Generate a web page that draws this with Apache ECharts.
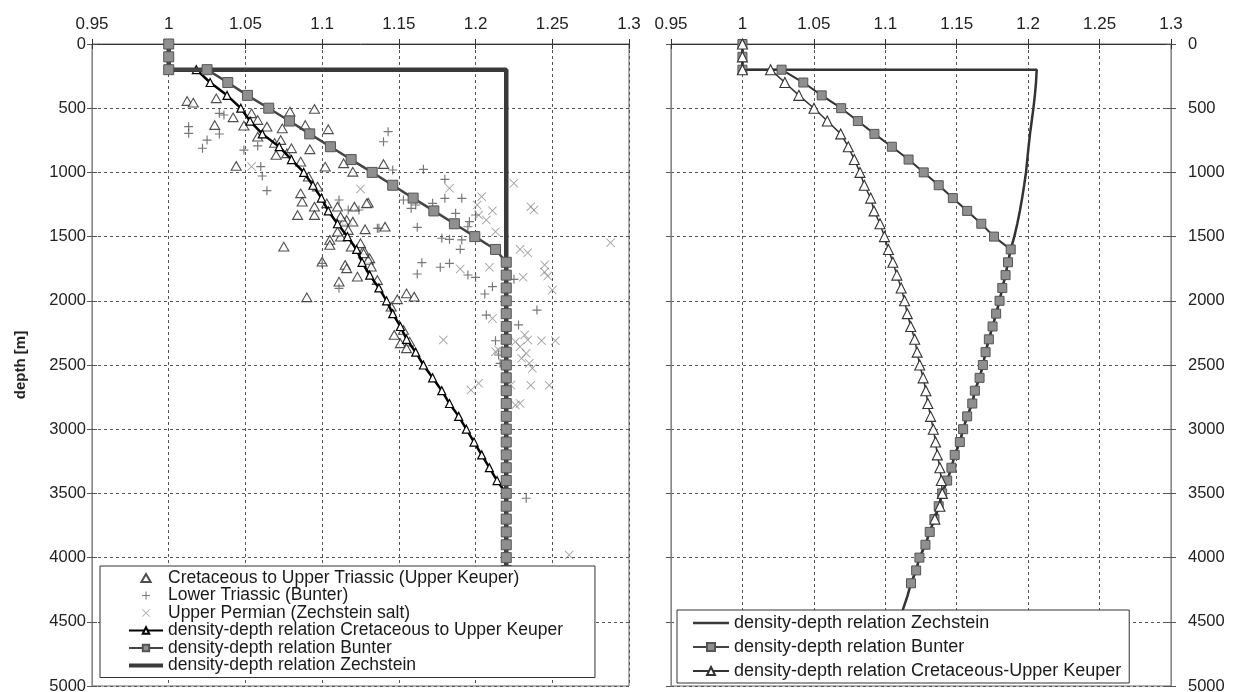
<!DOCTYPE html>
<html>
<head>
<meta charset="utf-8">
<script src="https://cdn.jsdelivr.net/npm/echarts@6/dist/echarts.min.js"></script>
<style>
  html, body { margin: 0; padding: 0; background: #fff; }
  #chart { width: 1233px; height: 692px; }
</style>
</head>
<body>
<div id="chart"></div>
<script>
// ---- density axis ticks and depth axis ticks ----
const densityTicks = [0.95, 1, 1.05, 1.1, 1.15, 1.2, 1.25, 1.3];
const depthTicks = [0, 500, 1000, 1500, 2000, 2500, 3000, 3500, 4000, 4500, 5000];

// ---- measured densities [density, depth m] ----
const cretaceousSamples = [
  [1.012,444],[1.016,457],[1.031,423],[1.042,571],[1.049,636],[1.030,631],[1.044,950],[1.079,527],
  [1.095,506],[1.089,631],[1.104,664],[1.092,820],[1.074,657],[1.069,770],[1.058,722],[1.070,864],
  [1.102,955],[1.114,929],[1.120,995],[1.086,1163],[1.087,1228],[1.084,1332],[1.095,1267],[1.110,1267],
  [1.121,1267],[1.130,1236],[1.116,1371],[1.128,1443],[1.095,1332],[1.105,1526],[1.075,1578],[1.112,1500],
  [1.127,1604],[1.140,935],[1.141,1423],[1.131,1669],[1.155,1942],[1.160,1968],[1.147,2266],[1.151,2331],
  [1.157,2318],[1.090,1973],[1.100,1695],[1.105,1565],[1.111,1851],[1.115,1721],[1.116,1747],[1.114,1384],
  [1.120,1384],[1.129,1241],[1.130,1682],[1.123,1812],[1.127,1630],[1.149,1988],[1.155,2370],
  [1.054,540],[1.058,592],[1.064,644],[1.073,748],[1.077,851],[1.080,812],[1.086,916],[1.091,1033],
  [1.097,1111],[1.103,1241],[1.112,1345],[1.117,1449],[1.125,1552],[1.110,1462],[1.119,1578],[1.132,1734],
  [1.136,1838],[1.145,2046],[1.153,2227]
];
const lowerTriassicSamples = [
  [1.033,540],[1.036,553],[1.013,644],[1.013,696],[1.025,748],[1.033,701],[1.022,812],[1.049,826],
  [1.060,955],[1.061,1028],[1.064,1142],[1.058,794],[1.111,1215],[1.136,1435],[1.117,1293],
  [1.143,683],[1.140,761],[1.146,981],[1.180,1054],[1.191,1202],[1.180,1202],
  [1.166,976],[1.153,1215],[1.158,1280],[1.161,1254],[1.172,1241],[1.187,1319],[1.196,1384],[1.195,1423],
  [1.200,1332],[1.162,1428],[1.178,1513],[1.183,1521],[1.191,1526],[1.190,1599],[1.165,1703],[1.162,1791],
  [1.177,1739],[1.183,1708],[1.195,1799],[1.200,1817],[1.225,1833],[1.211,1890],[1.206,1947],[1.240,2072],
  [1.207,2111],[1.228,2188],[1.213,2311],[1.215,2422],[1.216,2487],
  [1.137,1435],[1.111,1903],[1.100,1708],[1.124,1293],[1.233,3538]
];
const zechsteinSamples = [
  [1.054,955],[1.125,1129],[1.183,1124],[1.204,1189],[1.225,1085],[1.211,1298],[1.207,1371],[1.202,1332],
  [1.201,1254],[1.236,1267],[1.238,1293],[1.213,1462],[1.229,1599],[1.234,1625],[1.288,1547],[1.209,1739],
  [1.190,1752],[1.231,1817],[1.245,1776],[1.247,1807],[1.245,1721],[1.250,1916],[1.211,2137],[1.179,2305],
  [1.213,2396],[1.226,2318],[1.232,2266],[1.234,2305],[1.229,2357],[1.233,2409],[1.230,2448],[1.235,2487],
  [1.237,2526],[1.243,2311],[1.252,2311],[1.215,2383],[1.202,2643],[1.197,2695],[1.223,2656],[1.236,2658],
  [1.248,2658],[1.226,2812],[1.229,2799],[1.261,3980]
];

// ---- density-depth relations, left panel ----
const leftCretDepth = [0,100,200,200,300,400,500,600,700,800,900,1000,1100,1200,1300,1400,1500,1600,1700,1800,
  1900,2000,2100,2200,2300,2400,2500,2600,2700,2800,2900,3000,3100,3200,3300,3400,3500,
  3600,3700,3800,3900,4000,4100,4200,4300,4400,4500];
const leftCretDensity = [1,1,1,1.018,1.027,1.038,1.047,1.053,1.061,1.072,1.080,1.088,1.094,1.0995,1.104,1.110,1.1165,1.1225,1.126,1.131,
  1.137,1.142,1.146,1.151,1.155,1.161,1.166,1.172,1.178,1.183,1.189,1.194,1.199,1.204,1.209,1.214,1.22,
  1.22,1.22,1.22,1.22,1.22,1.22,1.22,1.22,1.22,1.22];

const leftBunterDepth = [0,100,200,200,300,400,500,600,700,800,900,1000,1100,1200,1300,1400,1500,1600,
  1700,1800,1900,2000,2100,2200,2300,2400,2500,2600,2700,2800,2900,3000,3100,3200,3300,3400,3500,
  3600,3700,3800,3900,4000,4100,4200,4300,4400,4500];
const leftBunterDensity = [1,1,1,1.025,1.0385,1.0513,1.0652,1.0787,1.0919,1.1054,1.1189,1.1326,1.146,1.1593,1.1728,1.1862,1.1995,1.213,
  1.22,1.22,1.22,1.22,1.22,1.22,1.22,1.22,1.22,1.22,1.22,1.22,1.22,1.22,1.22,1.22,1.22,1.22,1.22,
  1.22,1.22,1.22,1.22,1.22,1.22,1.22,1.22,1.22,1.22];

const leftZechDepth = [0,200,200,4500];
const leftZechDensity = [1,1,1.22,1.22];

// ---- density-depth relations, right panel ----
const rightZechDepth = [0,200,200,300,400,500,600,700,800,900,1000,1100,1200,1300,1400,1500,1600,
  1700,1800,1900,2000,2100,2200,2300,2400,2500,2600,2700,2800,2900,3000,3100,3200,3300,3400,3500,
  3600,3700,3800,3900,4000,4100,4200,4300,4400,4500];
const rightZechDensity = [1,1,1.206,1.2055,1.2047,1.2037,1.2025,1.2013,1.2003,1.1994,1.1985,1.1972,1.1958,1.1942,1.1924,1.1903,1.1878,
  1.1859,1.1842,1.1819,1.18,1.1776,1.1751,1.1725,1.1702,1.1683,1.166,1.1627,1.1609,1.1573,1.1545,1.1522,1.1486,1.1463,1.1433,1.1398,
  1.1374,1.1344,1.1311,1.1281,1.1239,1.1216,1.118,1.1155,1.1125,1.1095];

const rightBunterDepth = [0,100,200,200,300,400,500,600,700,800,900,1000,1100,1200,1300,1400,1500,1600,
  1700,1800,1900,2000,2100,2200,2300,2400,2500,2600,2700,2800,2900,3000,3100,3200,3300,3400,3500,
  3600,3700,3800,3900,4000,4100,4200];
const rightBunterDensity = [1,1,1,1.0274,1.0426,1.0555,1.0691,1.0808,1.0924,1.1046,1.1163,1.1269,1.1374,1.1473,1.1573,1.1672,1.1761,1.1878,
  1.1859,1.1842,1.1819,1.18,1.1776,1.1751,1.1725,1.1702,1.1683,1.166,1.1627,1.1609,1.1573,1.1545,1.1522,1.1486,1.1463,1.1433,1.1398,
  1.1374,1.1344,1.1311,1.1281,1.1239,1.1216,1.118];

const rightCretDepth = [0,100,200,200,300,400,500,600,700,800,900,1000,1100,1200,1300,1400,1500,1600,
  1700,1800,1900,2000,2100,2200,2300,2400,2500,2600,2700,2800,2900,3000,3100,3200,3300,3400,3500,3600,3700];
const rightCretDensity = [1,1,1,1.0197,1.0297,1.0395,1.0501,1.0594,1.0688,1.0741,1.0783,1.0823,1.0853,1.0898,1.0921,1.0963,1.0994,1.1022,
  1.1053,1.1081,1.1111,1.1135,1.1154,1.1178,1.1206,1.1223,1.1241,1.1265,1.1284,1.1298,1.1317,1.1336,1.1352,1.1364,1.1382,1.1392,1.1399,1.1382,1.1347];

// ---- series names ----
const N_CRET_DATA = 'Cretaceous to Upper Triassic (Upper Keuper)';
const N_BUNT_DATA = 'Lower Triassic (Bunter)';
const N_ZECH_DATA = 'Upper Permian (Zechstein salt)';
const N_CRET_REL = 'density-depth relation Cretaceous to Upper Keuper';
const N_BUNT_REL = 'density-depth relation Bunter';
const N_ZECH_REL = 'density-depth relation Zechstein';
const N_CRET_REL2 = 'density-depth relation Cretaceous-Upper Keuper';

const pairs = (dens, depth) => dens.map((d, i) => [d, depth[i]]);

const FONT = '"Liberation Sans", Arial, sans-serif';
const TRI = 'path://M5,0L10,8.66L0,8.66Z';
const PLUS = 'path://M0,4.35H10V5.65H0Z M4.35,0H5.65V10H4.35Z';
const CROSS = 'path://M0.7,0L5,4.3L9.3,0L10,0.7L5.7,5L10,9.3L9.3,10L5,5.7L0.7,10L0,9.3L4.3,5L0,0.7Z';

const gridLine = { show: true, lineStyle: { color: '#555', width: 1, type: [3, 3] } };

function densityAxis(gridIndex) {
  return [{
    gridIndex, type: 'value', position: 'top',
    min: densityTicks[0], max: densityTicks[densityTicks.length - 1], interval: 0.05,
    axisLine: { show: true, lineStyle: { color: '#333', width: 1 } },
    axisTick: { show: true, length: 5, lineStyle: { color: '#333' } },
    axisLabel: { show: true, fontSize: 17, color: '#222', fontFamily: FONT, margin: 11,
      formatter: v => String(+v.toFixed(2)) },
    splitLine: gridLine
  }, {
    gridIndex, type: 'value', position: 'top',
    min: densityTicks[0], max: densityTicks[densityTicks.length - 1], interval: 0.05,
    axisLine: { show: false },
    axisTick: { show: true, inside: true, length: 5, lineStyle: { color: '#333' } },
    axisLabel: { show: false }, splitLine: { show: false }
  }];
}

function depthAxis(gridIndex, position, labels, inside) {
  return {
    gridIndex, type: 'value', position, inverse: true,
    min: depthTicks[0], max: depthTicks[depthTicks.length - 1], interval: 500,
    axisLine: { show: true, lineStyle: { color: '#888', width: 1 } },
    axisTick: { show: true, inside: !!inside, length: 5, lineStyle: { color: '#555' } },
    axisLabel: labels ? { show: true, fontSize: 16.5, color: '#222', fontFamily: FONT,
      margin: position === 'right' ? 17 : 6, formatter: v => String(v) } : { show: false },
    splitLine: inside ? { show: false } : gridLine
  };
}

const xAxes = [...densityAxis(0), ...densityAxis(1)];
const leftY = depthAxis(0, 'left', true, false);
leftY.name = 'depth [m]';
leftY.nameLocation = 'middle';
leftY.nameGap = 64;
leftY.nameTextStyle = { fontSize: 15, fontWeight: 'bold', color: '#222', fontFamily: FONT };
const yAxes = [
  leftY,
  depthAxis(0, 'left', false, true),
  depthAxis(1, 'right', true, false),
  depthAxis(1, 'right', false, true),
  depthAxis(1, 'left', false, false)
];
yAxes[4].splitLine = { show: false };

const series = [
  // left panel: measured samples
  { name: N_CRET_DATA, type: 'scatter', xAxisIndex: 0, yAxisIndex: 0, data: cretaceousSamples,
    symbol: TRI, symbolSize: 10, symbolKeepAspect: true,
    itemStyle: { color: '#fff', borderColor: '#222', borderWidth: 1.1 }, z: 2 },
  { name: N_BUNT_DATA, type: 'scatter', xAxisIndex: 0, yAxisIndex: 0, data: lowerTriassicSamples,
    symbol: PLUS, symbolSize: 9, symbolKeepAspect: true,
    itemStyle: { color: '#555' }, z: 2 },
  { name: N_ZECH_DATA, type: 'scatter', xAxisIndex: 0, yAxisIndex: 0, data: zechsteinSamples,
    symbol: CROSS, symbolSize: 9, symbolKeepAspect: true,
    itemStyle: { color: '#8a8a8a' }, z: 2 },
  // left panel: relations
  { name: N_CRET_REL, type: 'line', xAxisIndex: 0, yAxisIndex: 0, data: pairs(leftCretDensity, leftCretDepth),
    symbol: 'triangle', symbolSize: 8, showAllSymbol: true,
    lineStyle: { color: '#000', width: 2.5 },
    itemStyle: { color: '#fff', borderColor: '#000', borderWidth: 1.2 }, z: 3 },
  { name: N_ZECH_REL, type: 'line', xAxisIndex: 0, yAxisIndex: 0, data: pairs(leftZechDensity, leftZechDepth),
    symbol: 'none', lineStyle: { color: '#3a3a3a', width: 4.5 }, itemStyle: { color: '#3a3a3a' }, z: 4 },
  { name: N_BUNT_REL, type: 'line', xAxisIndex: 0, yAxisIndex: 0, data: pairs(leftBunterDensity, leftBunterDepth),
    symbol: 'rect', symbolSize: 10, showAllSymbol: true,
    lineStyle: { color: '#444', width: 2.5 },
    itemStyle: { color: '#8f8f8f', borderColor: '#555', borderWidth: 1 }, z: 5 },
  // right panel: relations
  { name: N_ZECH_REL, type: 'line', xAxisIndex: 2, yAxisIndex: 2, data: pairs(rightZechDensity, rightZechDepth),
    symbol: 'none', lineStyle: { color: '#333', width: 2.5 }, itemStyle: { color: '#333' }, z: 3 },
  { name: N_BUNT_REL, type: 'line', xAxisIndex: 2, yAxisIndex: 2, data: pairs(rightBunterDensity, rightBunterDepth),
    symbol: 'rect', symbolSize: 9, showAllSymbol: true,
    lineStyle: { color: '#333', width: 2 },
    itemStyle: { color: '#8f8f8f', borderColor: '#555', borderWidth: 1 }, z: 4 },
  { name: N_CRET_REL2, type: 'line', xAxisIndex: 2, yAxisIndex: 2, data: pairs(rightCretDensity, rightCretDepth),
    symbol: 'triangle', symbolSize: 10, showAllSymbol: true,
    lineStyle: { color: '#333', width: 1.5 },
    itemStyle: { color: '#fff', borderColor: '#333', borderWidth: 1.1 }, z: 5 }
];

const legendText = { fontFamily: FONT, color: '#1a1a1a' };

const option = {
  animation: false,
  backgroundColor: '#fff',
  grid: [
    { left: 92, top: 44, width: 537, height: 642, show: true, borderColor: '#666', borderWidth: 1,
      containLabel: false, outerBoundsMode: 'none' },
    { left: 671, top: 44, width: 500, height: 642, show: true, borderColor: '#666', borderWidth: 1,
      containLabel: false, outerBoundsMode: 'none' }
  ],
  xAxis: xAxes,
  yAxis: yAxes,
  legend: [
    { data: [
        { name: N_CRET_DATA, icon: TRI },
        { name: N_BUNT_DATA, icon: PLUS },
        { name: N_ZECH_DATA, icon: CROSS },
        N_CRET_REL,
        N_BUNT_REL,
        { name: N_ZECH_REL, icon: 'path://M0,0H34V4H0Z' }
      ],
      z: 20, zlevel: 0,
      orient: 'vertical', left: 100, top: 566, selectedMode: false,
      padding: [3, 32, 3, 28], itemWidth: 34, itemHeight: 8, itemGap: -0.5,
      backgroundColor: '#fff', borderColor: '#333', borderWidth: 1, borderRadius: 0,
      textStyle: Object.assign({ fontSize: 17.5, lineHeight: 17 }, legendText) },
    { data: [
        { name: N_ZECH_REL, icon: 'path://M0,0H36V2.5H0Z' },
        N_BUNT_REL,
        N_CRET_REL2
      ],
      z: 20, zlevel: 0,
      orient: 'vertical', left: 677, top: 610, selectedMode: false,
      padding: [4, 8, 3, 15], itemWidth: 36, itemHeight: 10, itemGap: 6,
      backgroundColor: '#fff', borderColor: '#333', borderWidth: 1, borderRadius: 0,
      textStyle: Object.assign({ fontSize: 18, lineHeight: 17 }, legendText) }
  ],
  series
};

const chart = echarts.init(document.getElementById('chart'), null, { renderer: 'canvas' });
chart.setOption(option);
</script>
</body>
</html>
